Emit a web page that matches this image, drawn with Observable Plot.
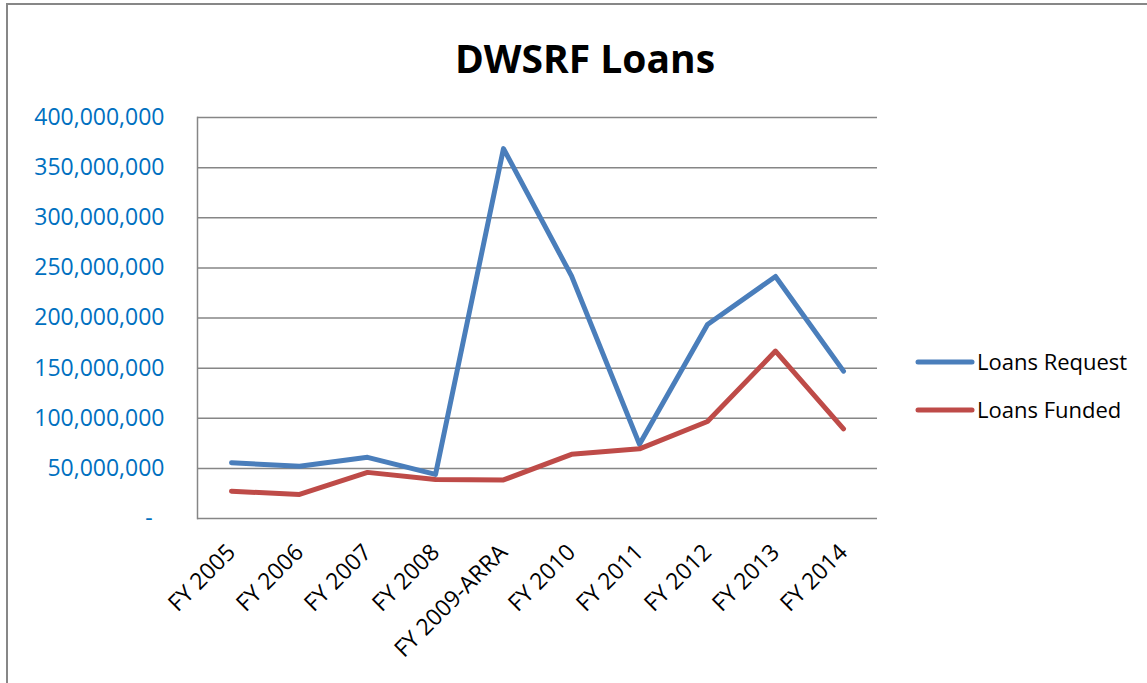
<!DOCTYPE html>
<html>
<head>
<meta charset="utf-8">
<script src="https://cdn.jsdelivr.net/npm/d3@7"></script>
<script src="https://cdn.jsdelivr.net/npm/@observablehq/plot@0.6"></script>
<style>
  body { margin: 0; background: #fff; }
  #wrap { position: relative; width: 1147px; height: 683px; overflow: hidden; font-family: "Open Sans", sans-serif; background: #fff; }
  #border { position: absolute; left: 6px; top: 3px; width: 1400px; height: 900px; border: 2px solid #878787; box-sizing: border-box; }
  #chart { position: absolute; left: 0; top: 0; }
  #overlay { position: absolute; left: 0; top: 0; pointer-events: none; }
</style>
</head>
<body>
<div id="wrap">
  <div id="border"></div>
  <div id="chart"></div>
  <svg id="overlay" width="1147" height="683"></svg>
</div>
<script>
// ---- data ----
const categories = ["FY 2005", "FY 2006", "FY 2007", "FY 2008", "FY 2009-ARRA", "FY 2010", "FY 2011", "FY 2012", "FY 2013", "FY 2014"];
const loansRequest = [55.6e6, 52.2e6, 61e6, 44e6, 369e6, 242e6, 74e6, 193.5e6, 241.4e6, 147e6];
const loansFunded  = [27.2e6, 24e6, 46e6, 39e6, 38.5e6, 64e6, 69.5e6, 96.8e6, 167e6, 89.5e6];
const seriesNames = ["Loans Request", "Loans Funded"];
const seriesColors = ["#4A7EBB", "#BE4B48"];
const yTicks = [0, 50e6, 100e6, 150e6, 200e6, 250e6, 300e6, 350e6, 400e6];
const titleText = "DWSRF Loans";

const rows = [];
categories.forEach((c, i) => {
  rows.push({cat: c, series: seriesNames[0], value: loansRequest[i]});
  rows.push({cat: c, series: seriesNames[1], value: loansFunded[i]});
});

const fmt = d3.format(",");
const plot = Plot.plot({
  width: 1147,
  height: 683,
  marginLeft: 197,
  marginRight: 270,
  marginTop: 117,
  marginBottom: 165,
  style: {fontFamily: "'Open Sans', sans-serif", background: "transparent", overflow: "visible"},
  x: {type: "point", domain: categories, padding: 0.5, axis: null},
  y: {domain: [0, 400e6], axis: null},
  color: {domain: seriesNames, range: seriesColors},
  marks: [
    Plot.ruleY(yTicks, {stroke: "#868686", strokeWidth: 1.5}),
    Plot.frame({anchor: "left", stroke: "#868686", strokeWidth: 1.5}),
    Plot.axisY({
      ticks: yTicks,
      tickSize: 0,
      tickPadding: 33,
      fontSize: 23,
      color: "#0070C0",
      tickFormat: d => d === 0 ? "-\u00a0\u00a0" : fmt(d),
      label: null
    }),
    Plot.text(categories, {
      x: d => d,
      frameAnchor: "bottom",
      rotate: -45,
      textAnchor: "end",
      lineAnchor: "middle",
      dx: 0,
      dy: 30,
      fontSize: 23,
      fill: "#000"
    }),
    Plot.line(rows, {
      x: "cat", y: "value", z: "series", stroke: "series",
      strokeWidth: 5, strokeLinecap: "round", strokeLinejoin: "round"
    })
  ]
});
document.getElementById("chart").appendChild(plot);

// ---- title & legend overlay ----
const ov = d3.select("#overlay");
ov.append("text")
  .attr("x", 585).attr("y", 73)
  .attr("text-anchor", "middle")
  .attr("font-family", "'Open Sans', sans-serif")
  .attr("font-weight", "bold")
  .attr("font-size", 39)
  .attr("fill", "#000")
  .text(titleText);

const lg = ov.append("g").attr("font-family", "'Open Sans', sans-serif").attr("font-size", 22);
seriesNames.forEach((name, i) => {
  const y = 362 + i * 48;
  lg.append("line")
    .attr("x1", 918).attr("x2", 972).attr("y1", y).attr("y2", y)
    .attr("stroke", seriesColors[i]).attr("stroke-width", 5).attr("stroke-linecap", "round");
  lg.append("text")
    .attr("x", 977).attr("y", y).attr("dy", "0.35em")
    .attr("fill", "#000")
    .text(name);
});
</script>
</body>
</html>
